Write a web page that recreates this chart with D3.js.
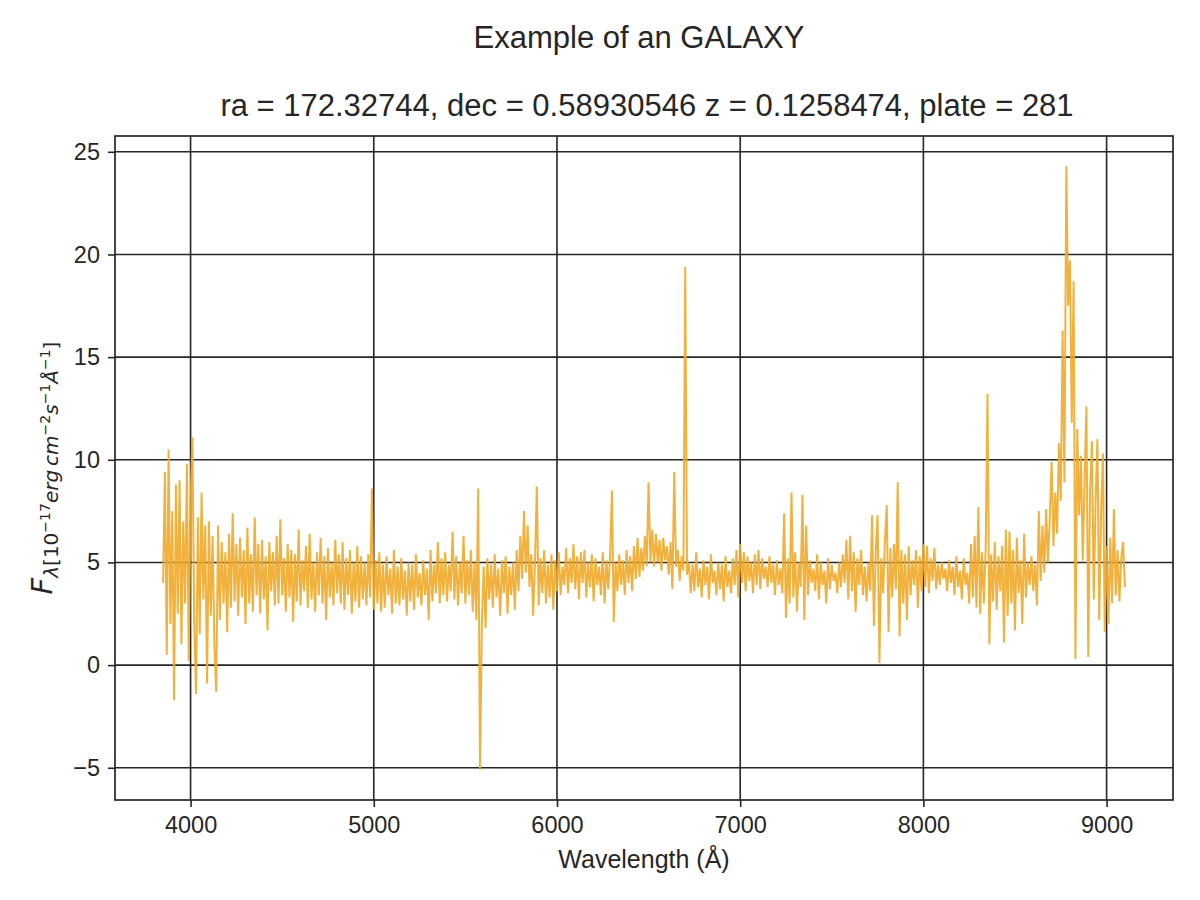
<!DOCTYPE html>
<html>
<head>
<meta charset="utf-8">
<script src="https://cdn.jsdelivr.net/npm/d3@7"></script>
<style>
  body { margin: 0; background: #fff; }
  text { font-family: "Liberation Sans", Arial, sans-serif; fill: #262626; }
</style>
</head>
<body>
<svg id="chart" width="1200" height="900"></svg>
<script>
// Spectrum: one flux value every 10 Å, one row per 100 Å
const lambdaStart = 3850;
const lambdaStep = 10;
const flux = [
  4.0, 9.4, 0.5, 10.5, 2.0, 7.5, -1.7, 8.8, 2.5, 9.0,      // 3850
  1.0, 7.0, 3.0, 9.8, 0.2, 8.0, 11.1, 2.0, -1.4, 7.2,      // 3950
  1.5, 8.4, 3.2, 6.8, -0.9, 7.0, 2.4, 6.3, 1.0, -1.3,      // 4050
  6.8, 2.2, 6.0, 3.0, 5.5, 1.6, 6.4, 2.8, 7.4, 3.1,        // 4150
  5.9, 2.4, 6.2, 3.3, 5.6, 2.0, 6.7, 3.0, 5.4, 2.6,        // 4250
  7.2, 3.4, 5.9, 2.5, 6.1, 3.2, 5.3, 1.7, 6.0, 3.6,        // 4350
  5.5, 2.9, 6.3, 3.0, 7.1, 3.4, 5.2, 2.6, 5.9, 3.3,        // 4450
  5.6, 2.1, 5.4, 3.1, 6.6, 2.9, 5.1, 3.6, 5.8, 2.8,        // 4550
  6.4, 3.2, 5.0, 2.6, 5.5, 3.4, 6.2, 3.0, 5.3, 2.2,        // 4650
  5.7, 3.3, 5.0, 2.9, 6.1, 3.5, 5.4, 3.0, 6.0, 2.7,        // 4750
  5.2, 3.4, 5.6, 2.5, 5.0, 3.1, 5.8, 2.8, 5.3, 3.2,        // 4850
  5.0, 2.9, 5.4, 3.3, 8.6, 2.7, 5.1, 3.0, 5.5, 2.6,        // 4950
  4.9, 2.8, 5.3, 3.4, 4.7, 2.5, 5.6, 3.0, 4.8, 2.9,        // 5050
  5.2, 3.2, 4.6, 2.4, 5.0, 3.1, 4.9, 2.7, 5.4, 3.3,        // 5150
  4.5, 2.9, 5.1, 3.4, 4.7, 2.2, 5.6, 3.1, 4.9, 3.5,        // 5250
  6.0, 3.0, 5.2, 3.4, 5.5, 3.1, 4.9, 3.6, 6.5, 3.2,        // 5350
  5.3, 2.9, 5.0, 3.5, 6.3, 3.0, 5.1, 3.4, 5.6, 2.6,        // 5450
  5.0, 2.2, 8.6, -5.1, 2.0, 4.8, 1.8, 5.2, 3.2, 4.9,       // 5550
  2.8, 5.4, 3.3, 4.7, 2.4, 5.1, 3.5, 5.3, 2.5, 4.8,        // 5650
  3.4, 5.0, 2.7, 5.6, 3.6, 6.3, 4.2, 7.5, 4.5, 6.8,        // 5750
  3.8, 5.4, 2.4, 5.0, 8.7, 2.9, 5.2, 3.5, 5.6, 3.0,        // 5850
  4.9, 3.3, 5.4, 2.7, 5.1, 3.6, 5.5, 3.4, 4.8, 3.9,        // 5950
  5.7, 3.5, 5.2, 4.0, 5.9, 3.7, 5.3, 3.2, 5.5, 4.0,        // 6050
  5.6, 3.3, 5.0, 3.8, 5.4, 3.1, 5.2, 3.9, 4.8, 3.4,        // 6150
  5.5, 3.0, 5.1, 3.7, 5.3, 8.5, 2.1, 5.0, 3.6, 5.4,        // 6250
  3.9, 5.1, 3.4, 5.6, 4.0, 5.3, 3.6, 5.8, 4.2, 6.2,        // 6350
  4.3, 5.7, 4.6, 6.3, 4.8, 8.9, 5.0, 6.6, 4.8, 6.4,        // 6450
  5.0, 6.1, 4.6, 6.2, 5.1, 5.8, 4.4, 6.0, 3.7, 9.4,        // 6550
  4.8, 5.6, 4.1, 5.3, 4.6, 19.4, 4.4, 5.0, 3.5, 4.9,       // 6650
  3.6, 5.5, 3.8, 4.7, 3.3, 5.1, 3.9, 4.8, 3.2, 5.4,        // 6750
  4.0, 4.6, 3.4, 5.0, 3.7, 4.9, 3.1, 5.3, 3.8, 4.6,        // 6850
  3.5, 5.2, 3.9, 5.6, 3.3, 5.9, 4.0, 5.5, 3.6, 5.3,        // 6950
  4.1, 5.0, 3.5, 5.4, 3.9, 5.6, 3.7, 5.2, 4.2, 4.8,        // 7050
  3.8, 5.3, 4.0, 4.9, 3.4, 5.1, 3.9, 4.7, 3.5, 7.4,        // 7150
  2.3, 5.2, 3.0, 8.4, 3.3, 5.5, 2.6, 5.0, 3.8, 8.3,        // 7250
  2.2, 6.8, 3.4, 5.1, 4.0, 4.7, 3.6, 5.4, 3.2, 5.0,        // 7350
  3.9, 4.6, 3.0, 5.2, 3.7, 4.9, 4.1, 4.5, 3.5, 5.0,        // 7450
  3.8, 5.4, 4.0, 6.1, 3.2, 6.3, 3.6, 5.5, 2.6, 5.2,        // 7550
  3.9, 5.6, 3.4, 4.8, 3.1, 5.0, 3.6, 7.3, 1.9, 5.5,        // 7650
  7.3, 0.1, 5.2, 3.5, 6.0, 7.8, 1.6, 5.7, 3.3, 5.9,        // 7750
  3.7, 8.9, 1.4, 5.6, 3.0, 5.4, 2.2, 5.8, 3.4, 5.1,        // 7850
  3.9, 5.6, 2.8, 5.3, 3.6, 5.9, 3.8, 5.8, 3.5, 5.2,        // 7950
  4.1, 5.7, 3.7, 4.9, 3.9, 5.0, 4.2, 4.7, 3.6, 5.1,        // 8050
  4.0, 4.8, 3.4, 5.3, 3.8, 4.6, 3.2, 5.2, 3.9, 4.5,        // 8150
  3.0, 5.9, 3.3, 6.3, 2.8, 7.7, 2.5, 5.5, 3.0, 5.7,        // 8250
  13.2, 1.0, 5.4, 3.1, 6.0, 2.7, 5.3, 3.6, 5.8, 1.1,       // 8350
  6.6, 2.4, 6.5, 3.0, 5.6, 1.7, 6.2, 3.5, 5.1, 2.0,        // 8450
  6.4, 3.3, 5.0, 3.9, 5.3, 3.6, 4.9, 2.9, 7.5, 4.1,        // 8550
  6.8, 4.5, 7.6, 5.0, 7.2, 9.9, 5.8, 8.4, 6.4, 10.8,       // 8650
  8.0, 16.3, 8.9, 24.3, 17.5, 19.7, 11.8, 18.7, 0.3, 11.5, // 8750
  7.3, 10.2, 5.1, 9.0, 12.6, 0.4, 8.5, 10.9, 3.2, 8.0,     // 8850
  11.0, 2.2, 7.4, 10.3, 1.6, 5.8, 2.0, 6.2, 3.0, 7.6,      // 8950
  3.4, 5.6, 3.1, 5.2, 6.0, 3.8                             // 9050
];
const wavelength = flux.map((_, i) => lambdaStart + i * lambdaStep);

const xTicks = [4000, 5000, 6000, 7000, 8000, 9000];
const yTicks = [-5, 0, 5, 10, 15, 20, 25];
const titleLines = ["Example of an GALAXY", "ra = 172.32744, dec = 0.58930546 z = 0.1258474, plate = 281"];
const xTitle = "Wavelength (Å)";

const margin = {top: 136, right: 27, bottom: 100, left: 115};
const width = 1200, height = 900;
const ink = "#262626";

const svg = d3.select("#chart");
svg.append("rect").attr("width", width).attr("height", height).attr("fill", "#fff");

// matplotlib style 5% padding around the data
function padded(ext) {
    const pad = (ext[1] - ext[0]) * 0.05;
    return [ext[0] - pad, ext[1] + pad];
}

const x = d3.scaleLinear()
    .domain(padded(d3.extent(wavelength)))
    .range([margin.left, width - margin.right]);
const y = d3.scaleLinear()
    .domain(padded(d3.extent(flux)))
    .range([height - margin.bottom, margin.top]);

const [x0, x1] = x.range();
const [y1, y0] = y.range();

// grid, under the spectrum
const grid = svg.append("g").attr("stroke", ink).attr("stroke-width", 1.6);
grid.selectAll(".vx").data(xTicks).join("line")
    .attr("x1", d => x(d)).attr("x2", d => x(d))
    .attr("y1", y0).attr("y2", y1);
grid.selectAll(".hy").data(yTicks).join("line")
    .attr("x1", x0).attr("x2", x1)
    .attr("y1", d => y(d)).attr("y2", d => y(d));

// the spectrum
const line = d3.line()
    .x((d, i) => x(wavelength[i]))
    .y(d => y(d));
svg.append("path")
    .datum(flux)
    .attr("fill", "none")
    .attr("stroke", "#f0a827")
    .attr("stroke-opacity", 0.9)
    .attr("stroke-width", 2)
    .attr("stroke-linejoin", "bevel")
    .attr("d", line);

// axes
const xAxis = svg.append("g")
    .attr("transform", `translate(0,${y1})`)
    .call(d3.axisBottom(x).tickValues(xTicks).tickFormat(d3.format("d")).tickSize(7).tickPadding(9));
const yAxis = svg.append("g")
    .attr("transform", `translate(${x0},0)`)
    .call(d3.axisLeft(y).tickValues(yTicks).tickSize(7).tickPadding(8));

[xAxis, yAxis].forEach(g => {
    g.select(".domain").remove();
    g.selectAll(".tick line").attr("stroke", ink).attr("stroke-width", 1.6);
    g.selectAll(".tick text")
        .attr("fill", ink)
        .style("font-family", '"Liberation Sans", Arial, sans-serif')
        .style("font-size", "23.5px");
});

// frame
svg.append("rect")
    .attr("x", x0).attr("y", y0)
    .attr("width", x1 - x0).attr("height", y1 - y0)
    .attr("fill", "none").attr("stroke", ink).attr("stroke-width", 1.7);

// titles
svg.append("text").attr("x", 639).attr("y", 48)
    .attr("text-anchor", "middle").style("font-size", "31px").text(titleLines[0]);
svg.append("text").attr("x", 647).attr("y", 116)
    .attr("text-anchor", "middle").style("font-size", "31px").text(titleLines[1]);

svg.append("text").attr("x", (x0 + x1) / 2).attr("y", 868)
    .attr("text-anchor", "middle").style("font-size", "25px").text(xTitle);

// y label, mathtext-like: F_{lambda[10^{-17} erg cm^{-2} s^{-1} Å^{-1}]}
const yLabel = svg.append("text")
    .attr("transform", `translate(52,${(y0 + y1) / 2}) rotate(-90)`)
    .attr("text-anchor", "middle")
    .style("font-family", '"DejaVu Sans", sans-serif');
const parts = [
    {t: "F", size: 29, it: true, dy: 0},
    {t: "λ", size: 20, it: true, dy: 6},
    {t: "[10", size: 20, it: false, dy: 0},
    {t: "−17", size: 14, it: false, dy: -8},
    {t: "erg\u2009cm", size: 20, it: true, dy: 8},
    {t: "−2", size: 14, it: false, dy: -8},
    {t: "s", size: 20, it: true, dy: 8},
    {t: "−1", size: 14, it: false, dy: -8},
    {t: "Å", size: 20, it: true, dy: 8},
    {t: "−1", size: 14, it: false, dy: -8},
    {t: "]", size: 20, it: false, dy: 8}
];
yLabel.selectAll("tspan").data(parts).join("tspan")
    .attr("dy", d => d.dy)
    .style("font-size", d => d.size + "px")
    .style("font-style", d => d.it ? "italic" : "normal")
    .text(d => d.t);
</script>
</body>
</html>
